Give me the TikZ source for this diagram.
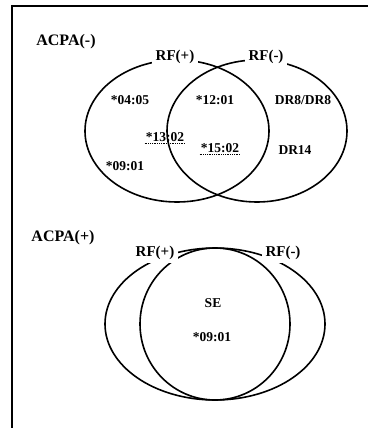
\documentclass[tikz,border=0pt]{standalone}
\usepackage{fontspec}
\setmainfont{Liberation Serif}
\begin{document}
\begin{tikzpicture}[x=1pt,y=1pt,
  venn/.style={draw=black, line width=1.6pt},
  biglabel/.style={font=\fontsize{16}{18}\selectfont\bfseries, inner sep=0pt},
  rflabel/.style={font=\fontsize{15}{18}\selectfont\bfseries, fill=white, inner xsep=4pt, inner ysep=3pt},
  txt/.style={font=\fontsize{13.5}{16}\selectfont\bfseries, inner sep=1pt},
  uline/.style={densely dotted, line width=0.8pt}]
\useasboundingbox (0,0) rectangle (368,-428);
% frame
\draw[line width=2.8pt] (12,-5) -- (12,-428);
\draw[line width=1.6pt] (11,-6) -- (368,-6);
% ---------- ACPA(-) ----------
\node[biglabel] (acpaneg) at (66,-42) {ACPA(-)};
\draw[venn] (177,-131) ellipse [x radius=92, y radius=71];
\draw[venn] (257,-131) ellipse [x radius=90, y radius=71];
\node[rflabel] (rfp1) at (175,-57) {RF(+)};
\node[rflabel] (rfn1) at (266,-57) {RF(-)};
\node[txt] (a0405) at (130,-100) {*04:05};
\node[txt] (a1201) at (215,-100) {*12:01};
\node[txt] (dr8) at (303,-100) {DR8/DR8};
\node[txt] (a1302) at (165,-137) {*13:02};
\node[txt] (a1502) at (220,-148) {*15:02};
\node[txt] (dr14) at (295,-150) {DR14};
\node[txt] (a0901) at (125,-166) {*09:01};
\draw[uline] ([yshift=-1pt]a1302.south west) -- ([yshift=-1pt]a1302.south east);
\draw[uline] ([yshift=-1pt]a1502.south west) -- ([yshift=-1pt]a1502.south east);
% ---------- ACPA(+) ----------
\node[biglabel] (acpapos) at (63,-238) {ACPA(+)};
\draw[venn] (215,-324) ellipse [x radius=110, y radius=76];
\draw[venn] (215,-324) ellipse [x radius=75, y radius=76];
\node[rflabel] (rfp2) at (155,-253) {RF(+)};
\node[rflabel] (rfn2) at (283,-253) {RF(-)};
\node[txt] (se) at (213,-303) {SE};
\node[txt] (b0901) at (212,-337) {*09:01};
\end{tikzpicture}
\end{document}
